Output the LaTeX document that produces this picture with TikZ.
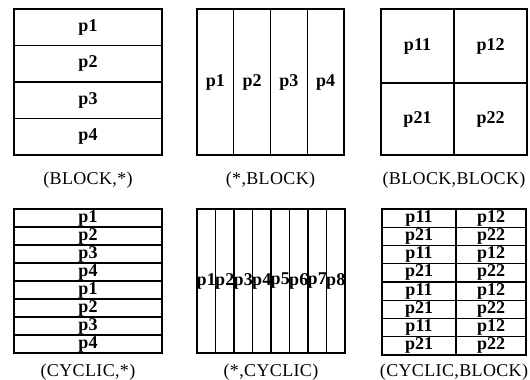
\documentclass[tikz,border=0pt]{standalone}
\usepackage{fontspec}
\setmainfont{Liberation Serif}
\usetikzlibrary{positioning}

\begin{document}
\begin{tikzpicture}[
    x=1pt, y=-1pt,
    frame/.style={
      draw,
      line width=1.7pt,
      inner sep=0pt,
      minimum width=#1
    },
    frame/.default=148pt,
    sep/.style={
      draw,
      line width=1.1pt
    },
    cell/.style={
      font=\fontsize{18}{18}\selectfont\bfseries,
      inner sep=0pt
    },
    caption/.style={
      font=\fontsize{18}{18}\selectfont\addfontfeature{LetterSpace=2},
      inner sep=0pt
    }
  ]
  \useasboundingbox (0,0) rectangle (530,380);

  % (BLOCK,*)
  \node[frame, minimum height=146pt] (bstar) at (88,82) {};
  \foreach \i in {1,2,3}
    \draw[sep] (14,9+36.5*\i) -- (162,9+36.5*\i);
  \foreach \i in {1,...,4}
    \node[cell] (bstar-\i) at (88,9+36.5*\i-18.25) {p\i};
  \node[caption, below=16pt of bstar] (cap-bstar) {(BLOCK,*)};

  % (*,BLOCK)
  \node[frame=147pt, minimum height=146pt] (starb) at (270.5,82) {};
  \foreach \i in {1,2,3}
    \draw[sep] (197+36.75*\i,9) -- (197+36.75*\i,155);
  \foreach \i in {1,...,4}
    \node[cell] (starb-\i) at (197+36.75*\i-18.4,82) {p\i};
  \node[caption, below=16pt of starb] (cap-starb) {(*,BLOCK)};

  % (BLOCK,BLOCK)
  \node[frame=146pt, minimum height=146pt] (bb) at (454,82) {};
  \draw[sep] (454,9) -- (454,155);
  \draw[sep] (381,83) -- (527,83);
  \node[cell] (bb-11) at (417.5,46) {p11};
  \node[cell] (bb-12) at (490.5,46) {p12};
  \node[cell] (bb-21) at (417.5,119) {p21};
  \node[cell] (bb-22) at (490.5,119) {p22};
  \node[caption, below=16pt of bb] (cap-bb) {(BLOCK,BLOCK)};

  % (CYCLIC,*)
  \node[frame, minimum height=144pt] (cstar) at (88,281) {};
  \foreach \i in {1,...,7}
    \draw[sep] (14,209+18*\i) -- (162,209+18*\i);
  \foreach \i [evaluate=\i as \k using {int(mod(\i-1,4)+1)}] in {1,...,8}
    \node[cell] (cstar-\i) at (88,209+18*\i-9) {p\k};
  \node[caption, below=10pt of cstar] (cap-cstar) {(CYCLIC,*)};

  % (*,CYCLIC)
  \node[frame, minimum height=144pt] (starc) at (271,281) {};
  \foreach \i in {1,...,7}
    \draw[sep] (197+18.5*\i,209) -- (197+18.5*\i,353);
  \foreach \i in {1,...,8}
    \node[cell] (starc-\i) at (197+18.5*\i-9.25,281) {p\i};
  \node[caption, below=10pt of starc] (cap-starc) {(*,CYCLIC)};

  % (CYCLIC,BLOCK)
  \node[frame=144pt, minimum height=146pt] (cb) at (454,282) {};
  \draw[sep] (456,209) -- (456,355);
  \foreach \i in {1,...,7}
    \draw[sep] (382,209+18.25*\i) -- (526,209+18.25*\i);
  \foreach \i [evaluate=\i as \r using {int(mod(\i-1,2)+1)}] in {1,...,8} {
    \node[cell] (cb-\i-1) at (419,209+18.25*\i-9.1) {p\r1};
    \node[cell] (cb-\i-2) at (491,209+18.25*\i-9.1) {p\r2};
  }
  \node[caption, below=8pt of cb] (cap-cb) {(CYCLIC,BLOCK)};

\end{tikzpicture}
\end{document}
